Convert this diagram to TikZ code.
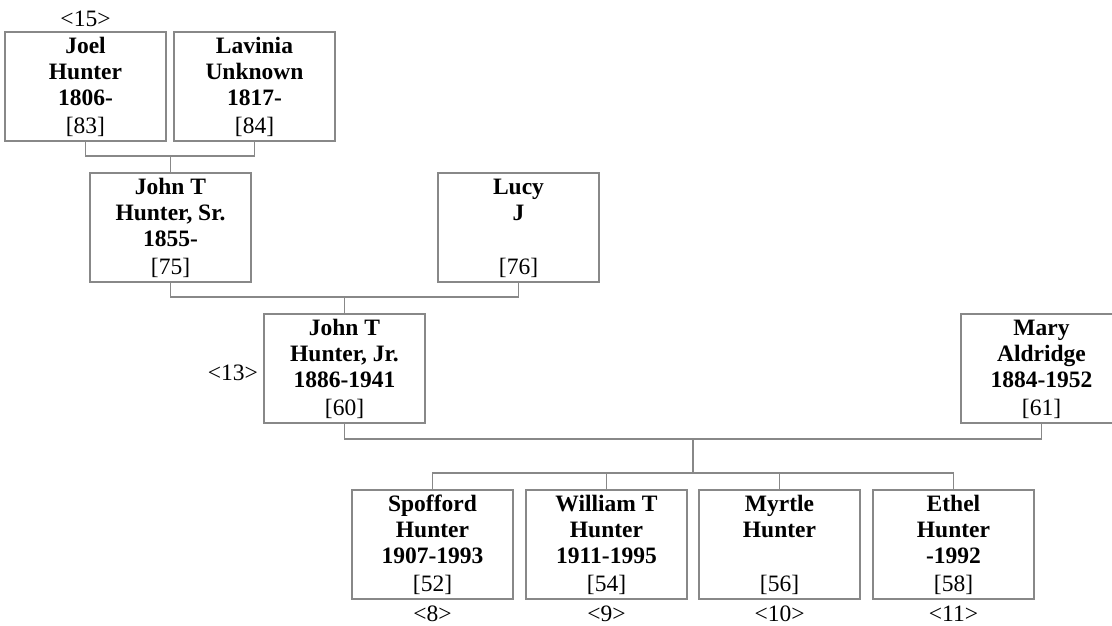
\documentclass[tikz,border=0pt]{standalone}
\usepackage{fontspec}
\setmainfont{Liberation Serif}
\definecolor{linegray}{RGB}{136,136,136}
\tikzset{
  pbox/.style={draw=linegray, line width=1.3pt, inner sep=0pt, outer sep=0pt,
    anchor=north west, minimum width=161pt, minimum height=109pt,
    font=\fontsize{23.5}{26}\selectfont},
  conn/.style={draw=linegray, line width=1.3pt},
  lbl/.style={inner sep=0pt, font=\fontsize{23.5}{26}\selectfont}
}
\newcommand{\pers}[7]{%
  \node[pbox] (#1) at (#2,#3) {\parbox[t][109pt][t]{161pt}{\centering\rule{0pt}{21pt}\textbf{#4}\\\textbf{#5}\\\textbf{#6}\mbox{}\\[2pt]{[}#7{]}}};}
\begin{document}
\begin{tikzpicture}[x=1pt,y=-1pt]
\useasboundingbox (0,0) rectangle (1112,625);
\clip (0,0) rectangle (1112,625);
\pers{joel}{5}{32}{Joel}{Hunter}{1806-}{83}
\pers{lavinia}{174}{32}{Lavinia}{Unknown}{1817-}{84}
\pers{johnsr}{90}{173}{John T}{Hunter, Sr.}{1855-}{75}
\pers{lucy}{438}{173}{Lucy}{J}{}{76}
\pers{johnjr}{264}{314}{John T}{Hunter, Jr.}{1886-1941}{60}
\pers{mary}{961}{314}{Mary}{Aldridge}{1884-1952}{61}
\pers{spofford}{352}{490}{Spofford}{Hunter}{1907-1993}{52}
\pers{william}{526}{490}{William T}{Hunter}{1911-1995}{54}
\pers{myrtle}{699}{490}{Myrtle}{Hunter}{}{56}
\pers{ethel}{873}{490}{Ethel}{Hunter}{-1992}{58}
% connectors
\coordinate (b1) at (170.5,156);
\draw[conn] (joel.south) |- (b1) -| (lavinia.south);
\draw[conn] (b1) -- (johnsr.north);
\coordinate (b2) at (344.5,297);
\draw[conn] (johnsr.south) |- (b2) -| (lucy.south);
\draw[conn] (b2) -- (johnjr.north);
\coordinate (b3) at (693,439);
\draw[conn] (johnjr.south) |- (b3) -| (mary.south);
\coordinate (b4) at (693,473);
\draw[conn] (b3) -- (b4);
\draw[conn] (spofford.north) |- (b4) -| (ethel.north);
\draw[conn] (william.north) -- (william.north |- b4);
\draw[conn] (myrtle.north) -- (myrtle.north |- b4);
% labels
\node[lbl, anchor=base] (n15) at (85.5,26) {\textless15\textgreater};
\node[lbl, anchor=base east] (n13) at (258,380) {\textless13\textgreater};
\node[lbl, anchor=base] (n8) at (432.5,621) {\textless8\textgreater};
\node[lbl, anchor=base] (n9) at (606.5,621) {\textless9\textgreater};
\node[lbl, anchor=base] (n10) at (779.5,621) {\textless10\textgreater};
\node[lbl, anchor=base] (n11) at (953.5,621) {\textless11\textgreater};
\end{tikzpicture}
\end{document}
